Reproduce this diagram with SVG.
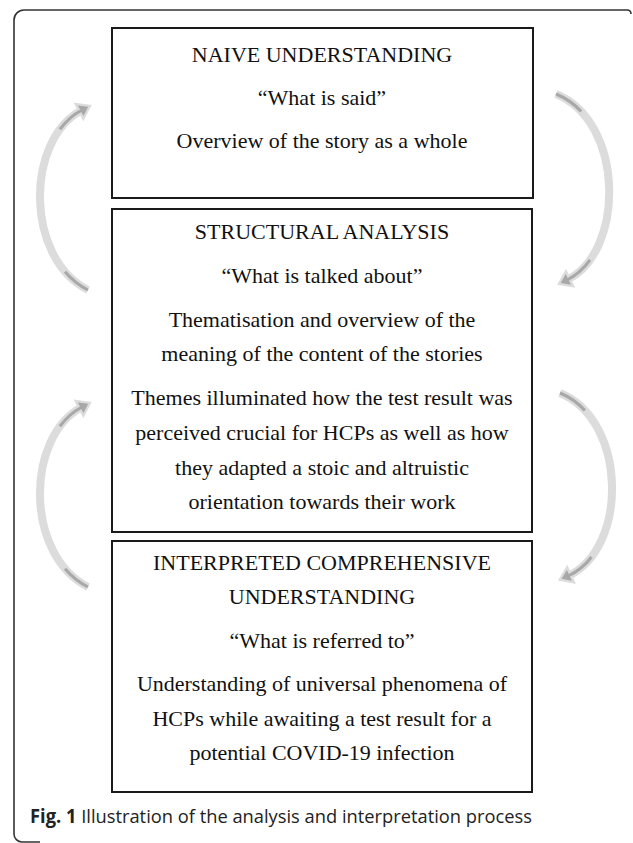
<svg xmlns="http://www.w3.org/2000/svg" width="633" height="843" viewBox="0 0 633 843">
<style>
.box{fill:#fff;stroke:#1a1a1a;stroke-width:2}
.t{font-family:"Liberation Serif","Times New Roman",serif;font-size:22px;fill:#111;text-anchor:middle}
.arrO{fill:none;stroke:#dcdcdc;stroke-width:8}
.arrI{fill:none;stroke:#a8a8a8;stroke-width:3;stroke-dasharray:14 72 14}
.cap{font-family:"Open Sans","Liberation Sans",sans-serif;font-size:19px;fill:#222}
</style>
<defs>
<marker id="hO" markerUnits="userSpaceOnUse" markerWidth="30" markerHeight="30" refX="0" refY="0" viewBox="-15 -15 30 30" orient="auto" overflow="visible">
<polygon points="-4,-10.5 11,0 -4,10.5" fill="#dcdcdc"/>
</marker>
<marker id="hI" markerUnits="userSpaceOnUse" markerWidth="30" markerHeight="30" refX="0" refY="0" viewBox="-15 -15 30 30" orient="auto" overflow="visible">
<polygon points="-1.5,-6 7,0 -1.5,6" fill="#a8a8a8"/>
</marker>
</defs>
<rect width="633" height="843" fill="#fff"/>
<path d="M631 14 Q631 10 627 10 L24 10 A10 10 0 0 0 14 20 L14 834 A8 8 0 0 0 22 842 L40 842" fill="none" stroke="#333" stroke-width="1.6"/>
<g id="connectors">
<path class="arrO" d="M88 290 C25 258 25 140 82 110" marker-end="url(#hO)"/>
<path class="arrI" pathLength="100" d="M88 290 C25 258 25 140 82 110" marker-end="url(#hI)"/>
<path class="arrO" d="M556 94 C625 122 625 252 567 280" marker-end="url(#hO)"/>
<path class="arrI" pathLength="100" d="M556 94 C625 122 625 252 567 280" marker-end="url(#hI)"/>
<path class="arrO" d="M88 587 C25 555 25 437 82 407" marker-end="url(#hO)"/>
<path class="arrI" pathLength="100" d="M88 587 C25 555 25 437 82 407" marker-end="url(#hI)"/>
<path class="arrO" d="M560 393 C628 421 628 549 568 576" marker-end="url(#hO)"/>
<path class="arrI" pathLength="100" d="M560 393 C628 421 628 549 568 576" marker-end="url(#hI)"/>
</g>
<g id="naive">
<rect class="box" x="112" y="28" width="421" height="170"/>
<text class="t" x="322" y="62">NAIVE UNDERSTANDING</text>
<text class="t" x="322" y="105">“What is said”</text>
<text class="t" x="322" y="148">Overview of the story as a whole</text>
</g>
<g id="structural">
<rect class="box" x="112" y="209" width="420" height="323"/>
<text class="t" x="322" y="239">STRUCTURAL ANALYSIS</text>
<text class="t" x="322" y="283">“What is talked about”</text>
<text class="t" x="322" y="327">Thematisation and overview of the</text>
<text class="t" x="322" y="361">meaning of the content of the stories</text>
<text class="t" x="322" y="405">Themes illuminated how the test result was</text>
<text class="t" x="322" y="440">perceived crucial for HCPs as well as how</text>
<text class="t" x="322" y="475">they adapted a stoic and altruistic</text>
<text class="t" x="322" y="509">orientation towards their work</text>
</g>
<g id="interpreted">
<rect class="box" x="112" y="541" width="420" height="251"/>
<text class="t" x="322" y="570">INTERPRETED COMPREHENSIVE</text>
<text class="t" x="322" y="604">UNDERSTANDING</text>
<text class="t" x="322" y="648">“What is referred to”</text>
<text class="t" x="322" y="691">Understanding of universal phenomena of</text>
<text class="t" x="322" y="726">HCPs while awaiting a test result for a</text>
<text class="t" x="322" y="760">potential COVID-19 infection</text>
</g>
<g id="caption">
<text class="cap" x="30" y="823" textLength="502" lengthAdjust="spacingAndGlyphs"><tspan font-weight="bold">Fig. 1</tspan> Illustration of the analysis and interpretation process</text>
</g>
</svg>
